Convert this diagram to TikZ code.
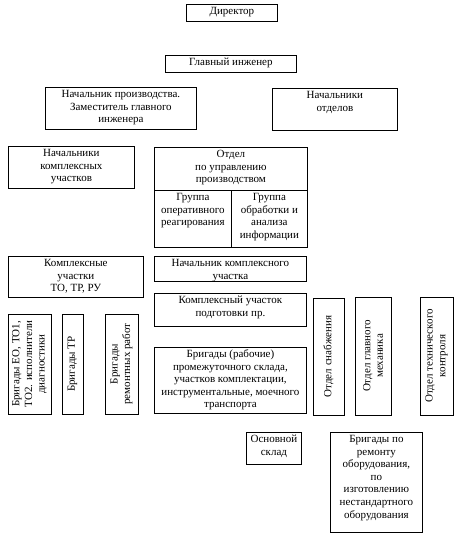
\documentclass[tikz,border=0pt]{standalone}
\usepackage{fontspec}
\setmainfont{Liberation Serif}
\begin{document}
\begin{tikzpicture}[x=1pt,y=-1pt,
  every node/.style={font=\fontsize{11}{12.6}\selectfont},
  tbox/.style={draw, line width=0.8pt, inner sep=0pt, anchor=north west},
  vbox/.style={draw, line width=0.8pt, inner sep=0pt, rotate=90, align=center}]
\useasboundingbox (0,0) rectangle (462,536);
\newcommand\tb[6]{\node[tbox] (#1) at (#2,#3) {\parbox[t][#5pt][t]{#4pt}{\centering\rule{0pt}{10pt}#6}};}
\newcommand\vb[6]{\node[vbox, minimum width=#5pt, minimum height=#4pt] (#1) at (#2,#3) {#6};}
\tb{dir}{186}{4}{91}{17}{Директор}
\tb{gi}{165}{55}{131}{17}{Главный инженер}
\tb{np}{45}{87}{151}{42}{Начальник производства.\\Заместитель главного\\инженера}
\tb{no}{272}{88}{125}{42}{Начальники\\отделов}
\tb{nku}{8}{146}{126}{42}{Начальники\\комплексных\\участков}
\tb{oup}{154}{147}{153}{43}{Отдел\\по управлению\\производством}
\tb{gor}{154}{190}{77}{57}{Группа\\оперативного\\реагирования}
\tb{goa}{231}{190}{76}{57}{Группа\\обработки и\\анализа\\информации}
\tb{ku}{8}{256}{135}{41}{Комплексные\\участки\\ТО, ТР, РУ}
\tb{nk}{154}{256}{152}{25}{Начальник комплексного\\участка}
\tb{kup}{154}{293}{152}{33}{Комплексный участок\\подготовки пр.}
\tb{br}{154}{347}{152}{66}{Бригады (рабочие)\\промежуточного склада,\\участков комплектации,\\инструментальные, моечного\\транспорта}
\tb{os}{246}{432}{55}{32}{Основной\\склад}
\tb{brr}{330}{432}{92}{100}{Бригады по\\ремонту\\оборудования,\\по\\изготовлению\\нестандартного\\оборудования}
\vb{be}{29.5}{364}{43}{100}{Бригады ЕО, ТО1,\\ТО2. исполнители\\диагностики}
\vb{btr}{72.5}{364}{21}{100}{Бригады ТР}
\vb{brp}{121.5}{364}{33}{100}{Бригады\\ремонтных работ}
\vb{osn}{328.5}{356.5}{31}{117}{Отдел снабжения}
\vb{ogm}{373}{356}{36}{118}{Отдел главного\\механика}
\vb{otk}{436.5}{356}{33}{118}{Отдел технического\\контроля}
\end{tikzpicture}
\end{document}
